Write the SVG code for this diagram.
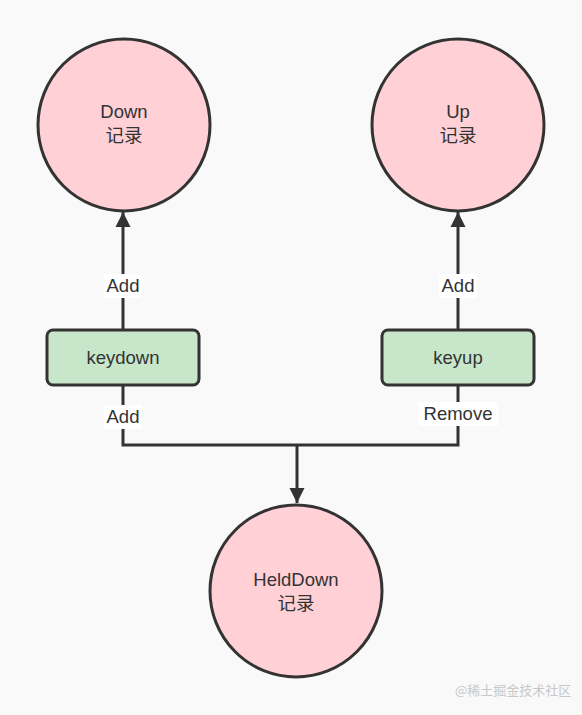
<svg xmlns="http://www.w3.org/2000/svg" width="582" height="715" viewBox="0 0 582 715">
<style>
.circle{fill:#ffd0d6;stroke:#333;stroke-width:3}
.box{fill:#c8e6c9;stroke:#333;stroke-width:3}
.t{font-family:"Liberation Sans","Noto Sans CJK SC",sans-serif;font-size:18.5px;fill:#333;text-anchor:middle}
.lbl{font-family:"Liberation Sans","Noto Sans CJK SC",sans-serif;font-size:18.5px;fill:#333;text-anchor:middle}
.lblbg{fill:#ffffff}
.edge{fill:none;stroke:#333;stroke-width:3}
.wm{font-family:"Noto Sans CJK SC",sans-serif;font-size:13px;fill:#c8c8c8}
</style>
<defs>
<marker id="arr" viewBox="0 0 10 10" refX="10" refY="5" markerWidth="5" markerHeight="7" orient="auto" markerUnits="strokeWidth">
<path d="M0,0 L10,5 L0,10 Z" fill="#333"/>
</marker>
</defs>
<rect width="582" height="715" fill="#f9f9f9"/>
<g id="connectors">
<path class="edge" d="M123,329 V212" marker-end="url(#arr)"/>
<path class="edge" d="M458,329 V212" marker-end="url(#arr)"/>
<path class="edge" d="M123,385 V445 H458 V385"/>
<path class="edge" d="M297,445 V503" marker-end="url(#arr)"/>
<rect class="lblbg" x="104" y="274" width="38" height="24"/>
<text class="lbl" x="123" y="292">Add</text>
<rect class="lblbg" x="439" y="274" width="38" height="24"/>
<text class="lbl" x="458" y="292">Add</text>
<rect class="lblbg" x="104" y="405" width="38" height="24"/>
<text class="lbl" x="123" y="423">Add</text>
<rect class="lblbg" x="418" y="402" width="80" height="24"/>
<text class="lbl" x="458" y="420">Remove</text>
</g>
<g id="down">
<circle class="circle" cx="124" cy="125" r="86"/>
<text class="t" x="124" y="118">Down</text>
<text class="t" x="124" y="142">记录</text>
</g>
<g id="up">
<circle class="circle" cx="458" cy="125" r="86"/>
<text class="t" x="458" y="118">Up</text>
<text class="t" x="458" y="142">记录</text>
</g>
<g id="keydown">
<rect class="box" x="47" y="330" width="152" height="55" rx="6"/>
<text class="t" x="123" y="364">keydown</text>
</g>
<g id="keyup">
<rect class="box" x="382" y="330" width="152" height="55" rx="6"/>
<text class="t" x="458" y="364">keyup</text>
</g>
<g id="helddown">
<circle class="circle" cx="296" cy="591" r="86"/>
<text class="t" x="296" y="586">HeldDown</text>
<text class="t" x="296" y="610">记录</text>
</g>
<text class="wm" x="455" y="695">@稀土掘金技术社区</text>
</svg>
